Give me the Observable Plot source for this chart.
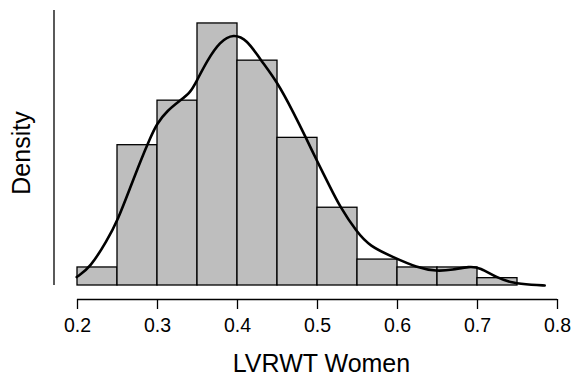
<!DOCTYPE html>
<html>
<head>
<meta charset="utf-8">
<script src="https://cdn.jsdelivr.net/npm/d3@7"></script>
<script src="https://cdn.jsdelivr.net/npm/@observablehq/plot@0.6"></script>
<style>
  html, body { margin: 0; padding: 0; background: #fff; }
  #chart svg { display: block; }
</style>
</head>
<body>
<div id="chart"></div>
<script>
// Histogram bins (left edges) and densities
const binStart = [0.20, 0.25, 0.30, 0.35, 0.40, 0.45, 0.50, 0.55, 0.60, 0.65, 0.70];
const binWidth = 0.05;
const binDensity = [0.32, 2.49, 3.28, 4.65, 3.99, 2.62, 1.38, 0.46, 0.32, 0.32, 0.13];

// Kernel density curve
const curveX = [0.199, 0.216, 0.237, 0.250, 0.266, 0.279, 0.291, 0.299, 0.312, 0.328, 0.341, 0.349, 0.362, 0.378, 0.395, 0.412, 0.428, 0.449, 0.470, 0.487, 0.499, 0.516, 0.528, 0.549, 0.565, 0.595, 0.624, 0.649, 0.669, 0.690, 0.703, 0.724, 0.744, 0.769, 0.784];
const curveY = [0.15, 0.32, 0.80, 1.15, 1.74, 2.22, 2.62, 2.87, 3.10, 3.28, 3.42, 3.63, 3.99, 4.33, 4.47, 4.36, 4.02, 3.63, 3.07, 2.58, 2.22, 1.74, 1.40, 0.95, 0.70, 0.50, 0.32, 0.25, 0.28, 0.34, 0.32, 0.14, 0.04, 0.01, 0.00];

const xTicks = [0.2, 0.3, 0.4, 0.5, 0.6, 0.7, 0.8];
const xLabel = "LVRWT Women";
const yLabel = "Density";
const yTop = 4.88;

const bins = binStart.map((s, i) => ({x1: s, x2: s + binWidth, y: binDensity[i]}));
const curve = curveX.map((x, i) => ({x, y: curveY[i]}));

const font = "'Liberation Sans', Arial, Helvetica, sans-serif";

const chart = Plot.plot({
  width: 572,
  height: 376,
  marginLeft: 77,
  marginRight: 15,
  marginTop: 10,
  marginBottom: 77,
  style: {fontFamily: font, background: "white", color: "black"},
  x: {domain: [0.2, 0.8]},
  y: {domain: [-0.2484, yTop], axis: null},
  marks: [
    Plot.rectY(bins, {x1: "x1", x2: "x2", y1: 0, y2: "y", fill: "#bebebe", stroke: "black", strokeWidth: 1.3}),
    Plot.line(curve, {x: "x", y: "y", curve: "basis", stroke: "black", strokeWidth: 2.6}),
    // y axis line (no ticks)
    Plot.ruleX([0.2], {y1: 0, y2: yTop, dx: -23.5, stroke: "black", strokeWidth: 1.3}),
    // x axis line
    Plot.ruleY([-0.2484], {x1: 0.2, x2: 0.8, stroke: "black", strokeWidth: 1.3}),
    Plot.axisX({ticks: xTicks, tickSize: 10, tickPadding: 9, tickFormat: d3.format(".1f"), fontSize: 19.5, label: null, strokeWidth: 1.3}),
    Plot.text([xLabel], {frameAnchor: "bottom", textAnchor: "middle", dy: 64, dx: 4, lineAnchor: "middle", fontSize: 25, fill: "black"}),
    Plot.text([yLabel], {frameAnchor: "left", textAnchor: "middle", dx: -56, dy: -2, rotate: -90, lineAnchor: "middle", fontSize: 25, fill: "black"})
  ]
});
document.getElementById("chart").appendChild(chart);
</script>
</body>
</html>
